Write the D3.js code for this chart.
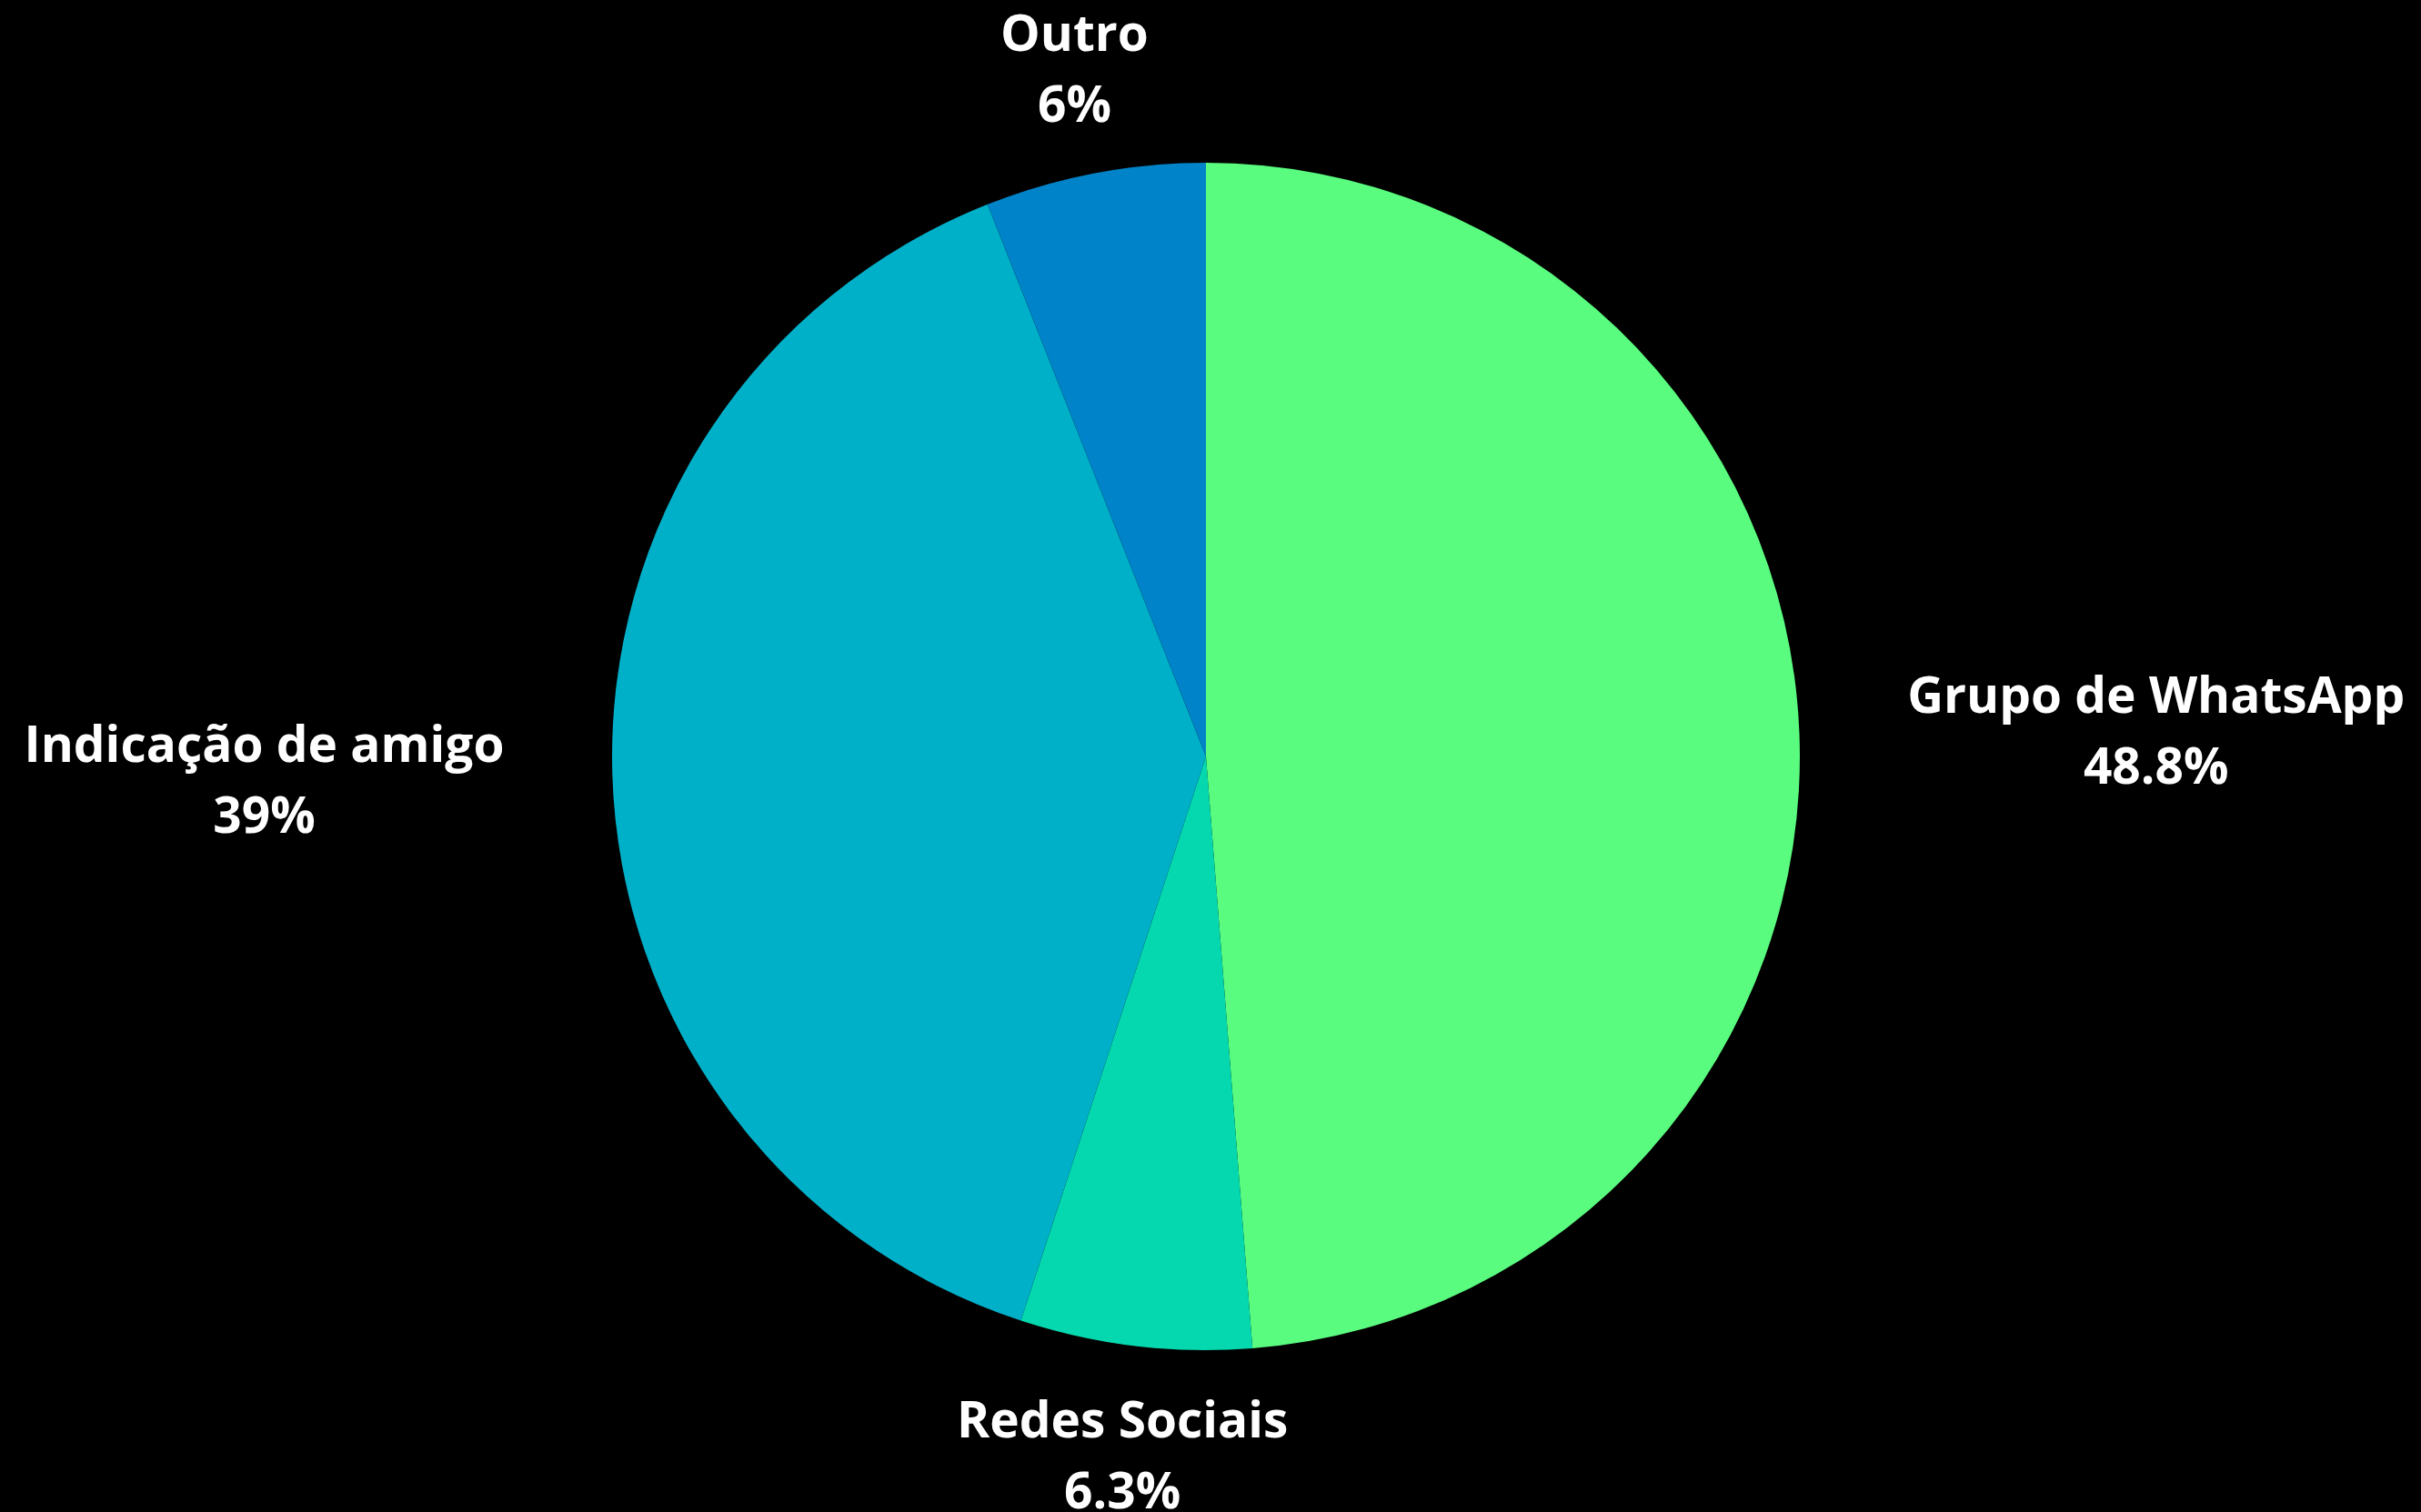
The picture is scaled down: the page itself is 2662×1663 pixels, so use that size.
<!DOCTYPE html>
<html>
<head>
<meta charset="utf-8">
<script src="https://cdn.jsdelivr.net/npm/d3@7"></script>
<style>
html,body{margin:0;padding:0;background:#000;}
svg{display:block;}
</style>
</head>
<body>
<svg id="chart" width="2662" height="1663"></svg>
<script>
const categories = ["Grupo de WhatsApp", "Redes Sociais", "Indicação de amigo", "Outro"];
const values = [48.8, 6.3, 39, 6];
const valueLabels = ["48.8%", "6.3%", "39%", "6%"];
const colors = ["#5AFC7F", "#05D8AE", "#00B0C9", "#0083C8"];

const W = 2662, H = 1663;
const cx = 1326, cy = 832, r = 653;
const labelR = 772;
const fontSize = 55, lineH = 78;

const svg = d3.select("#chart");
svg.append("rect").attr("width", W).attr("height", H).attr("fill", "#000");

const data = categories.map((c, i) => ({name: c, value: values[i], label: valueLabels[i], color: colors[i]}));
const pie = d3.pie().value(d => d.value).sort(null);
const arcs = pie(data);
const arc = d3.arc().innerRadius(0).outerRadius(r);

const g = svg.append("g").attr("transform", `translate(${cx},${cy})`);
g.selectAll("path").data(arcs).enter().append("path")
  .attr("d", arc)
  .attr("fill", d => d.data.color);

const labels = g.selectAll("g.lbl").data(arcs).enter().append("g").attr("class", "lbl");
labels.each(function(d) {
  const a = (d.startAngle + d.endAngle) / 2;
  const s = Math.sin(a), c = Math.cos(a);
  const t = d3.select(this).append("text")
    .attr("fill", "#fff")
    .attr("font-family", "'Open Sans', sans-serif")
    .attr("font-weight", 700)
    .attr("font-size", fontSize)
    .attr("text-anchor", "middle");
  t.append("tspan").attr("x", 0).attr("y", 0).text(d.data.name);
  t.append("tspan").attr("x", 0).attr("y", lineH).text(d.data.label);
  const bb = this.getBBox();
  let x = labelR * s, y = -labelR * c;
  x += s * bb.width / 2 * (Math.abs(s) > 0.7 ? 1 : 0);
  const blockCy = bb.y + bb.height / 2;
  d3.select(this).attr("transform", `translate(${x},${y - blockCy})`);
});
</script>
</body>
</html>
